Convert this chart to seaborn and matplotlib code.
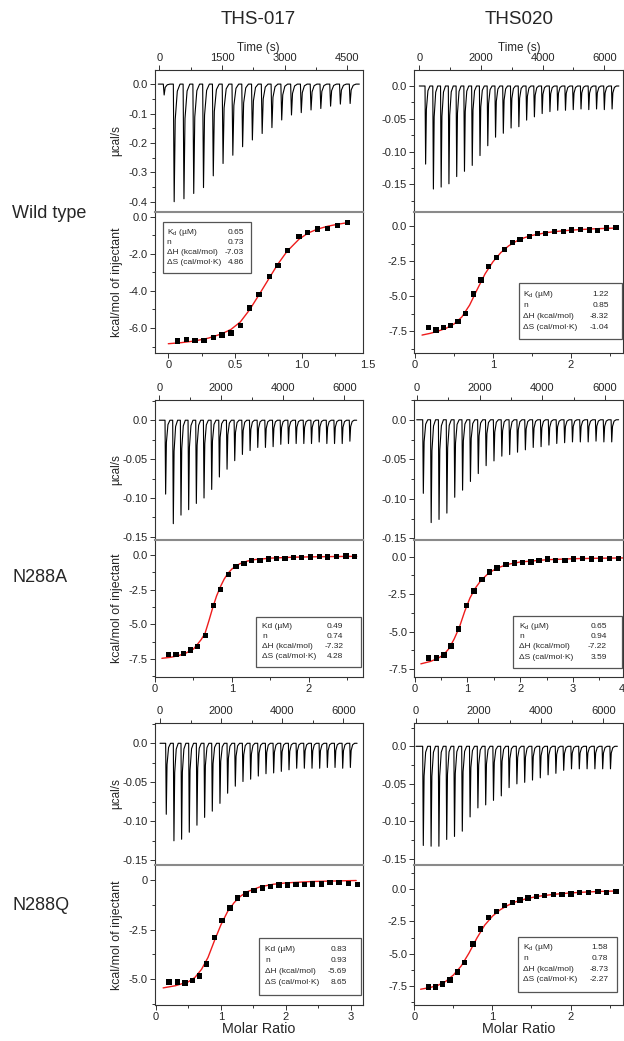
import numpy as np
import pandas as pd
import matplotlib
matplotlib.use("Agg")
import matplotlib.pyplot as plt
import matplotlib.transforms as mtransforms
import seaborn as sns
from matplotlib.patches import Rectangle
from matplotlib.ticker import MultipleLocator, FuncFormatter

# ---------------- values ----------------
# raw thermograms: injection times (s) and peak heights (ucal/s)
wt017_inj_t = [96, 336, 570, 804, 1038, 1272, 1506, 1740, 1974, 2208, 2442,
               2676, 2910, 3144, 3378, 3612, 3846, 4080, 4314, 4548]
wt017_inj_h = [-0.037, -0.400, -0.390, -0.372, -0.352, -0.312, -0.270, -0.242,
               -0.213, -0.190, -0.168, -0.148, -0.122, -0.105, -0.097, -0.088,
               -0.083, -0.075, -0.068, -0.066]

wt020_inj_t = [185, 437, 689, 941, 1193, 1445, 1697, 1949, 2201, 2453, 2705,
               2957, 3209, 3461, 3713, 3965, 4217, 4469, 4721, 4973, 5225,
               5477, 5729, 5981, 6233]
wt020_inj_h = [-0.119, -0.157, -0.154, -0.149, -0.138, -0.130, -0.121, -0.106,
               -0.091, -0.078, -0.072, -0.064, -0.062, -0.052, -0.047, -0.042,
               -0.039, -0.037, -0.037, -0.036, -0.035, -0.036, -0.035, -0.036,
               -0.035]

a017_inj_t = [185, 434, 683, 932, 1181, 1430, 1679, 1928, 2177, 2426, 2675,
              2924, 3173, 3422, 3671, 3920, 4169, 4418, 4667, 4916, 5165,
              5414, 5663, 5912, 6161]
a017_inj_h = [-0.095, -0.133, -0.122, -0.115, -0.107, -0.100, -0.089, -0.073,
              -0.063, -0.052, -0.044, -0.039, -0.035, -0.035, -0.034, -0.031,
              -0.030, -0.030, -0.030, -0.030, -0.028, -0.030, -0.030, -0.030,
              -0.027]

a020_inj_t = [191, 441, 691, 941, 1191, 1441, 1691, 1941, 2191, 2441, 2691,
              2941, 3191, 3441, 3691, 3941, 4191, 4441, 4691, 4941, 5191,
              5441, 5691, 5941, 6191]
a020_inj_h = [-0.093, -0.130, -0.126, -0.118, -0.098, -0.089, -0.078, -0.068,
              -0.058, -0.052, -0.046, -0.044, -0.041, -0.038, -0.035, -0.034,
              -0.032, -0.030, -0.029, -0.028, -0.028, -0.028, -0.027, -0.028,
              -0.028]

q017_inj_t = [185, 436, 687, 938, 1189, 1440, 1691, 1942, 2193, 2444, 2695,
              2946, 3197, 3448, 3699, 3950, 4201, 4452, 4703, 4954, 5205,
              5456, 5707, 5958, 6209]
q017_inj_h = [-0.091, -0.125, -0.123, -0.114, -0.105, -0.095, -0.087, -0.077,
              -0.064, -0.055, -0.049, -0.046, -0.042, -0.039, -0.038, -0.036,
              -0.034, -0.032, -0.032, -0.032, -0.032, -0.031, -0.031, -0.032,
              -0.031]

q020_inj_t = [214, 464, 714, 964, 1214, 1464, 1714, 1964, 2214, 2464, 2714,
              2964, 3214, 3464, 3714, 3964, 4214, 4464, 4714, 4964, 5214,
              5464, 5714, 5964, 6214]
q020_inj_h = [-0.132, -0.133, -0.133, -0.124, -0.120, -0.113, -0.094, -0.082,
              -0.078, -0.072, -0.066, -0.055, -0.050, -0.048, -0.045, -0.042,
              -0.038, -0.036, -0.032, -0.030, -0.030, -0.030, -0.030, -0.030,
              -0.030]

# integrated heats (kcal/mol of injectant) vs molar ratio
wt017_ratio = [0.068, 0.138, 0.200, 0.268, 0.338, 0.403, 0.470, 0.540, 0.610,
               0.680, 0.758, 0.823, 0.893, 0.980, 1.043, 1.118, 1.193, 1.268,
               1.343]
wt017_heat = [-6.71, -6.63, -6.66, -6.66, -6.50, -6.39, -6.27, -5.87, -4.92,
              -4.21, -3.22, -2.65, -1.83, -1.07, -0.84, -0.66, -0.63, -0.48,
              -0.32]
wt017_fit_x = [0.0, 0.1, 0.2, 0.3, 0.4, 0.47, 0.54, 0.61, 0.68, 0.76, 0.82,
               0.89, 0.98, 1.05, 1.12, 1.2, 1.28, 1.35]
wt017_fit_y = [-6.85, -6.79, -6.70, -6.55, -6.32, -6.08, -5.68, -5.02, -4.22,
               -3.28, -2.58, -1.88, -1.22, -0.88, -0.67, -0.51, -0.40, -0.32]
wt017_params = ["0.65", "0.73", "-7.03", "4.86"]

wt020_ratio = [0.171, 0.269, 0.363, 0.457, 0.551, 0.650, 0.748, 0.846, 0.944,
               1.047, 1.150, 1.252, 1.346, 1.466, 1.573, 1.675, 1.786, 1.902,
               2.009, 2.124, 2.235, 2.342, 2.457, 2.577]
wt020_heat = [-7.24, -7.43, -7.26, -7.12, -6.81, -6.24, -4.86, -3.86, -2.90,
              -2.24, -1.67, -1.19, -0.95, -0.74, -0.55, -0.55, -0.38, -0.40,
              -0.29, -0.24, -0.29, -0.31, -0.14, -0.10]
wt020_fit_x = [0.09, 0.2, 0.3, 0.4, 0.5, 0.6, 0.7, 0.8, 0.9, 1.0, 1.1, 1.2,
               1.3, 1.4, 1.5, 1.7, 1.9, 2.1, 2.3, 2.6]
wt020_fit_y = [-7.79, -7.66, -7.50, -7.30, -7.00, -6.50, -5.65, -4.50, -3.40,
               -2.55, -1.90, -1.42, -1.08, -0.84, -0.67, -0.46, -0.34, -0.26,
               -0.20, -0.14]
wt020_params = ["1.22", "0.85", "-8.32", "-1.04"]

a017_ratio = [0.173, 0.273, 0.368, 0.463, 0.554, 0.654, 0.758, 0.853, 0.952,
              1.052, 1.156, 1.255, 1.364, 1.472, 1.580, 1.688, 1.797, 1.905,
              2.022, 2.134, 2.242, 2.359, 2.480, 2.589]
a017_heat = [-7.17, -7.17, -7.10, -6.86, -6.62, -5.80, -3.62, -2.48, -1.42,
             -0.83, -0.59, -0.40, -0.40, -0.28, -0.24, -0.24, -0.19, -0.17,
             -0.14, -0.12, -0.14, -0.12, -0.07, -0.12]
a017_fit_x = [0.09, 0.2, 0.3, 0.4, 0.5, 0.55, 0.6, 0.65, 0.7, 0.75, 0.8, 0.85,
              0.9, 0.95, 1.0, 1.1, 1.2, 1.3, 1.5, 1.8, 2.1, 2.4, 2.62]
a017_fit_y = [-7.45, -7.38, -7.27, -7.08, -6.78, -6.45, -6.10, -5.65, -4.75,
              -3.80, -2.95, -2.28, -1.72, -1.30, -1.00, -0.63, -0.43, -0.32,
              -0.22, -0.15, -0.12, -0.10, -0.09]
a017_params = ["0.49", "0.74", "-7.32", "4.28"]

a020_ratio = [0.262, 0.418, 0.556, 0.687, 0.837, 0.981, 1.125, 1.275, 1.419,
              1.563, 1.732, 1.888, 2.045, 2.201, 2.357, 2.513, 2.670, 2.845,
              3.014, 3.183, 3.345, 3.514, 3.689, 3.858]
a020_heat = [-6.76, -6.76, -6.58, -5.97, -4.84, -3.27, -2.30, -1.53, -1.01,
             -0.74, -0.52, -0.41, -0.38, -0.34, -0.27, -0.16, -0.25, -0.27,
             -0.16, -0.11, -0.16, -0.16, -0.11, -0.11]
a020_fit_x = [0.12, 0.3, 0.45, 0.55, 0.65, 0.75, 0.85, 0.95, 1.05, 1.15, 1.25,
              1.4, 1.55, 1.75, 2.0, 2.5, 3.0, 3.5, 3.95]
a020_fit_y = [-7.16, -7.00, -6.78, -6.55, -6.15, -5.50, -4.70, -3.65, -2.75,
              -2.10, -1.62, -1.10, -0.78, -0.52, -0.35, -0.20, -0.13, -0.10,
              -0.08]
a020_params = ["0.65", "0.94", "-7.22", "3.59"]

q017_ratio = [0.200, 0.328, 0.446, 0.564, 0.667, 0.779, 0.897, 1.015, 1.138,
              1.256, 1.385, 1.508, 1.636, 1.764, 1.892, 2.021, 2.154, 2.282,
              2.410, 2.549, 2.677, 2.815, 2.959, 3.103]
q017_heat = [-5.13, -5.13, -5.18, -5.05, -4.83, -4.22, -2.90, -2.04, -1.41,
             -0.91, -0.70, -0.53, -0.41, -0.33, -0.25, -0.25, -0.22, -0.22,
             -0.20, -0.20, -0.13, -0.13, -0.17, -0.22]
q017_fit_x = [0.11, 0.3, 0.5, 0.6, 0.7, 0.8, 0.9, 1.0, 1.1, 1.2, 1.3, 1.4,
              1.6, 1.8, 2.0, 2.4, 2.8, 3.08]
q017_fit_y = [-5.43, -5.32, -5.12, -4.90, -4.50, -3.90, -3.05, -2.25, -1.60,
              -1.15, -0.82, -0.60, -0.35, -0.22, -0.15, -0.08, -0.05, -0.03]
q017_params = ["0.83", "0.93", "-5.69", "8.65"]

q020_ratio = [0.178, 0.271, 0.360, 0.457, 0.550, 0.643, 0.749, 0.847, 0.948,
              1.054, 1.152, 1.258, 1.355, 1.457, 1.563, 1.669, 1.779, 1.893,
              2.007, 2.117, 2.231, 2.350, 2.465, 2.583]
q020_heat = [-7.57, -7.57, -7.36, -7.03, -6.41, -5.68, -4.26, -3.10, -2.20,
             -1.73, -1.29, -1.03, -0.85, -0.70, -0.57, -0.52, -0.44, -0.44,
             -0.39, -0.26, -0.26, -0.18, -0.26, -0.18]
q020_fit_x = [0.08, 0.2, 0.3, 0.4, 0.5, 0.6, 0.7, 0.8, 0.9, 1.0, 1.1, 1.2,
              1.3, 1.45, 1.6, 1.8, 2.0, 2.2, 2.4, 2.6]
q020_fit_y = [-7.75, -7.62, -7.45, -7.15, -6.65, -5.95, -4.95, -3.80, -2.80,
              -2.10, -1.60, -1.25, -0.98, -0.72, -0.55, -0.40, -0.30, -0.23,
              -0.18, -0.15]
q020_params = ["1.58", "0.78", "-8.73", "-2.27"]

param_names_sub = [r"K$_\mathregular{d}$ (µM)", "n", "ΔH (kcal/mol)", "ΔS (cal/mol·K)"]
param_names_plain = ["Kd (µM)", "n", "ΔH (kcal/mol)", "ΔS (cal/mol·K)"]

col_titles = ["THS-017", "THS020"]
row_titles = ["Wild type", "N288A", "N288Q"]

# ---------------- layout (pixels of the 624x1041 picture) ----------------
W, H = 624, 1041
COLS = [(154.5, 362.5), (414.0, 623.5)]
ROWS = [(70, 212, 353), (400, 540, 677), (723, 865, 1005)]

panels = [
    dict(row=0, col=0, inj_t=wt017_inj_t, inj_h=wt017_inj_h, ratio=wt017_ratio,
         heat=wt017_heat, fit_x=wt017_fit_x, fit_y=wt017_fit_y,
         names=param_names_sub, params=wt017_params,
         raw_xlim=(-115, 4864), raw_xt=(1500, 750), raw_ylim=(-0.435, 0.048),
         raw_yt=(0.1, 0.05), raw_fmt="%.1f",
         itc_xlim=(-0.1035, 1.457), itc_xt=(0.5, 0.25), itc_xfmt="%.1f",
         itc_ylim=(-7.35, 0.25), itc_yt=(2.0, 1.0), itc_yzero="0.0",
         extra_x=[(1.5, "1.5")], box=(163.3, 221.7, 250.7, 273.3, 166.7, 244.0)),
    dict(row=0, col=1, inj_t=wt020_inj_t, inj_h=wt020_inj_h, ratio=wt020_ratio,
         heat=wt020_heat, fit_x=wt020_fit_x, fit_y=wt020_fit_y,
         names=param_names_sub, params=wt020_params,
         raw_xlim=(-172, 6623), raw_xt=(2000, 1000), raw_ylim=(-0.192, 0.0244),
         raw_yt=(0.05, 0.025), raw_fmt="%.2f",
         itc_xlim=(-0.013, 2.673), itc_xt=(1, 0.5), itc_xfmt="%d",
         itc_ylim=(-9.07, 1.0), itc_yt=(2.5, 1.25), itc_yzero="0.0",
         extra_x=[], box=(519.0, 282.7, 622.0, 339.3, 523.0, 609.0)),
    dict(row=1, col=0, inj_t=a017_inj_t, inj_h=a017_inj_h, ratio=a017_ratio,
         heat=a017_heat, fit_x=a017_fit_x, fit_y=a017_fit_y,
         names=param_names_plain, params=a017_params,
         raw_xlim=(-156, 6590), raw_xt=(2000, 1000), raw_ylim=(-0.154, 0.026),
         raw_yt=(0.05, 0.025), raw_fmt="%.2f",
         itc_xlim=(-0.006, 2.695), itc_xt=(1, 0.5), itc_xfmt="%d",
         itc_ylim=(-8.8, 1.09), itc_yt=(2.5, 1.25), itc_yzero="0.0",
         extra_x=[], box=(255.7, 616.7, 361.0, 667.3, 262.0, 343.3)),
    dict(row=1, col=1, inj_t=a020_inj_t, inj_h=a020_inj_h, ratio=a020_ratio,
         heat=a020_heat, fit_x=a020_fit_x, fit_y=a020_fit_y,
         names=param_names_sub, params=a020_params,
         raw_xlim=(-86, 6586), raw_xt=(2000, 1000), raw_ylim=(-0.152, 0.025),
         raw_yt=(0.05, 0.025), raw_fmt="%.2f",
         itc_xlim=(-0.01, 3.955), itc_xt=(1, 0.5), itc_xfmt="%d",
         itc_ylim=(-8.04, 1.12), itc_yt=(2.5, 1.25), itc_yzero="0.0",
         extra_x=[(3.915, "4")], box=(512.7, 616.0, 622.0, 668.3, 519.0, 606.7)),
    dict(row=2, col=0, inj_t=q017_inj_t, inj_h=q017_inj_h, ratio=q017_ratio,
         heat=q017_heat, fit_x=q017_fit_x, fit_y=q017_fit_y,
         names=param_names_plain, params=q017_params,
         raw_xlim=(-180, 6626), raw_xt=(2000, 1000), raw_ylim=(-0.156, 0.026),
         raw_yt=(0.05, 0.025), raw_fmt="%.2f",
         itc_xlim=(-0.023, 3.177), itc_xt=(1, 0.5), itc_xfmt="%d",
         itc_ylim=(-6.29, 0.75), itc_yt=(2.5, 1.25), itc_yzero="0",
         extra_x=[], box=(259.3, 938.3, 361.0, 995.0, 265.0, 346.7)),
    dict(row=2, col=1, inj_t=q020_inj_t, inj_h=q020_inj_h, ratio=q020_ratio,
         heat=q020_heat, fit_x=q020_fit_x, fit_y=q020_fit_y,
         names=param_names_sub, params=q020_params,
         raw_xlim=(-64, 6651), raw_xt=(2000, 1000), raw_ylim=(-0.158, 0.031),
         raw_yt=(0.05, 0.025), raw_fmt="%.2f",
         itc_xlim=(-0.005, 2.679), itc_xt=(1, 0.5), itc_xfmt="%d",
         itc_ylim=(-8.97, 1.86), itc_yt=(2.5, 1.25), itc_yzero="0.0",
         extra_x=[], box=(517.7, 936.7, 616.7, 991.7, 523.0, 608.3)),
]

# ---------------- style ----------------
sns.set_style("ticks")
plt.rcParams['font.family'] = ['Liberation Sans', 'DejaVu Sans']
plt.rcParams['mathtext.fontset'] = 'custom'
plt.rcParams['mathtext.rm'] = 'Liberation Sans'
plt.rcParams['axes.unicode_minus'] = False

FRAME = '#333333'
SEP = '#8a8a8a'
TICK_FS = 8.0
LABEL_FS = 8.4


def thermogram(times, heights):
    # one spike per injection: fast drop to the peak, then recovery
    start = min(0, times[0] - 120)
    t, q = [start], [0.0]
    for ti, hi in zip(times, heights):
        t += [ti, ti + 20, ti + 45, ti + 95, ti + 160]
        q += [0.0, hi, 0.3 * hi, 0.06 * hi, 0.0]
    t.append(times[-1] + 240)
    q.append(0.0)
    return pd.DataFrame({'time': t, 'power': q})


def fmt(pattern, zero):
    def f(v, pos):
        if abs(v) < 1e-9:
            return zero
        return pattern % v
    return FuncFormatter(f)


def px_axes(fig, x0, x1, ytop, ybot):
    return fig.add_axes([x0 / W, 1 - ybot / H, (x1 - x0) / W, (ybot - ytop) / H])


def style_frame(ax):
    for s in ax.spines.values():
        s.set_color(FRAME)
        s.set_linewidth(0.8)
    ax.tick_params(which='both', direction='out', color=FRAME, width=0.7,
                   labelsize=TICK_FS, pad=1.5)
    ax.tick_params(which='major', length=3.5)
    ax.tick_params(which='minor', length=2.0)


fig = plt.figure(figsize=(W / 100, H / 100), dpi=100)

for p in panels:
    x0, x1 = COLS[p['col']]
    ytop, ysep, ybot = ROWS[p['row']]

    # ---- raw heat-flow panel ----
    ax = px_axes(fig, x0, x1, ytop, ysep)
    df = thermogram(p['inj_t'], p['inj_h'])
    sns.lineplot(data=df, x='time', y='power', sort=False, estimator=None,
                 color='black', linewidth=0.8, ax=ax)
    ax.set_xlim(*p['raw_xlim'])
    ax.set_ylim(*p['raw_ylim'])
    style_frame(ax)
    ax.spines['bottom'].set_visible(False)
    ax.xaxis.set_major_locator(MultipleLocator(p['raw_xt'][0]))
    ax.xaxis.set_minor_locator(MultipleLocator(p['raw_xt'][1]))
    ax.yaxis.set_major_locator(MultipleLocator(p['raw_yt'][0]))
    ax.yaxis.set_minor_locator(MultipleLocator(p['raw_yt'][1]))
    ax.xaxis.set_major_formatter(FuncFormatter(lambda v, pos: "%d" % round(v)))
    ax.yaxis.set_major_formatter(fmt(p['raw_fmt'], "0.0"))
    ax.tick_params(axis='x', which='both', top=True, bottom=False,
                   labeltop=True, labelbottom=False)
    ax.xaxis.set_label_position('top')
    ax.set_xlabel("Time (s)" if p['row'] == 0 else "", fontsize=LABEL_FS,
                  labelpad=1.5)
    if p['col'] == 0:
        ax.set_ylabel("µcal/s", fontsize=LABEL_FS)
        ax.yaxis.set_label_coords(-0.156, 0.5)
    else:
        ax.set_ylabel("")

    # ---- integrated heat panel ----
    bx = px_axes(fig, x0, x1, ysep, ybot)
    sns.lineplot(x=p['fit_x'], y=p['fit_y'], sort=False, estimator=None,
                 color='#ee1c1c', linewidth=1.0, ax=bx, zorder=2)
    sns.scatterplot(x=p['ratio'], y=p['heat'], marker='s', s=15,
                    color='black', edgecolor='none', ax=bx, zorder=3)
    bx.set_xlim(*p['itc_xlim'])
    bx.set_ylim(*p['itc_ylim'])
    style_frame(bx)
    bx.spines['top'].set_color(SEP)
    bx.spines['top'].set_linewidth(1.5)
    bx.xaxis.set_major_locator(MultipleLocator(p['itc_xt'][0]))
    bx.xaxis.set_minor_locator(MultipleLocator(p['itc_xt'][1]))
    bx.yaxis.set_major_locator(MultipleLocator(p['itc_yt'][0]))
    bx.yaxis.set_minor_locator(MultipleLocator(p['itc_yt'][1]))
    bx.xaxis.set_major_formatter(fmt(p['itc_xfmt'], "0"))
    bx.yaxis.set_major_formatter(fmt("%.1f", p['itc_yzero']))
    bx.set_xlabel("Molar Ratio" if p['row'] == 2 else "", fontsize=10.3,
                  labelpad=0)
    if p['col'] == 0:
        bx.set_ylabel("kcal/mol of injectant", fontsize=8.9)
        bx.yaxis.set_label_coords(-0.151, 0.5)
    else:
        bx.set_ylabel("")

    # tick labels that sit just past the end of the axis
    off = mtransforms.offset_copy(bx.get_xaxis_transform(), fig=fig,
                                  x=0, y=-(3.5 + 1.5), units='points')
    for xv, txt in p['extra_x']:
        bx.text(xv, 0, txt, transform=off, ha='center', va='top',
                fontsize=TICK_FS, clip_on=False)

    # fit parameter box
    bx0, by0, bx1, by1, lx, vx = p['box']
    tr = fig.transFigure
    fig.patches.append(Rectangle((bx0 / W, 1 - by1 / H), (bx1 - bx0) / W,
                                 (by1 - by0) / H, transform=tr, facecolor='white',
                                 edgecolor='#555555', linewidth=0.9, zorder=5))
    for i, (nm, val) in enumerate(zip(p['names'], p['params'])):
        yy = by0 + (by1 - by0) * (0.2 + 0.195 * i)
        fig.text(lx / W, 1 - yy / H, nm, ha='left', va='center', fontsize=6.0,
                 zorder=6)
        fig.text(vx / W, 1 - yy / H, val, ha='right', va='center',
                 fontsize=6.0, zorder=6)

# column and row titles
for x, t in zip([258, 519], col_titles):
    fig.text(x / W, 1 - 20 / H, t, ha='center', va='center', fontsize=13.5)
for y, t in zip([213, 577, 905], row_titles):
    fig.text(12 / W, 1 - y / H, t, ha='left', va='center', fontsize=13)

fig.savefig("out.png", dpi=100)
